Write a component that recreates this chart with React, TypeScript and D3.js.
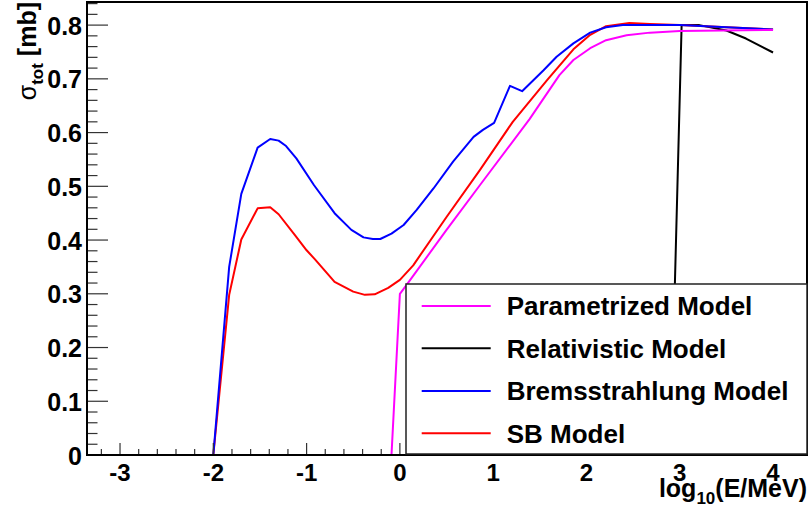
import React, { useEffect, useRef } from 'react';
import * as d3 from 'd3';

// log10(E/MeV) vs sigma_tot [mb]
const paramX = [-3, -0.09, 0, 0.07, 0.5, 0.857, 1.39, 1.71, 1.86, 2.04, 2.21, 2.43, 2.68, 3.0, 4.0];
const paramY = [0, 0, 0.3, 0.316, 0.419, 0.502, 0.625, 0.707, 0.735, 0.757, 0.772, 0.781, 0.786, 0.789, 0.791];

const relX = [-3, 2.9, 3.02, 3.21, 3.5, 3.71, 4.0];
const relY = [0, 0, 0.8, 0.8, 0.79, 0.775, 0.749];

const bremsX = [-3, -2.0, -1.83, -1.7, -1.525, -1.39, -1.3, -1.22, -1.11, -0.92, -0.7, -0.52, -0.39, -0.29, -0.21, -0.09, 0.04, 0.18, 0.36, 0.57, 0.79, 0.89, 1.01, 1.18, 1.31, 1.54, 1.68, 1.86, 2.04, 2.21, 2.39, 3.0, 3.5, 4.0];
const bremsY = [0, 0, 0.35, 0.486, 0.572, 0.588, 0.585, 0.575, 0.552, 0.502, 0.45, 0.419, 0.405, 0.402, 0.402, 0.412, 0.428, 0.456, 0.496, 0.546, 0.592, 0.605, 0.618, 0.687, 0.677, 0.716, 0.741, 0.766, 0.786, 0.796, 0.8, 0.8, 0.796, 0.792];

const sbX = [-3, -2.0, -1.83, -1.7, -1.525, -1.39, -1.3, -1.125, -1.0, -0.91, -0.7, -0.5, -0.375, -0.27, -0.125, 0, 0.143, 0.5, 0.857, 1.21, 1.58, 1.86, 2.04, 2.21, 2.46, 2.68, 3.0, 4.0];
const sbY = [0, 0, 0.298, 0.401, 0.459, 0.461, 0.448, 0.409, 0.381, 0.364, 0.322, 0.304, 0.298, 0.299, 0.311, 0.326, 0.353, 0.443, 0.53, 0.62, 0.698, 0.755, 0.782, 0.798, 0.804, 0.802, 0.8, 0.792];

const xTicks = [-3, -2, -1, 0, 1, 2, 3, 4];
const yTicks = [0, 0.1, 0.2, 0.3, 0.4, 0.5, 0.6, 0.7, 0.8];

// drawing order: magenta last so it sits on top of the zero line
const series = [
  { name: 'Relativistic Model', xs: relX, ys: relY, color: '#000000' },
  { name: 'SB Model', xs: sbX, ys: sbY, color: '#ff0000' },
  { name: 'Bremsstrahlung Model', xs: bremsX, ys: bremsY, color: '#0000ff' },
  { name: 'Parametrized Model', xs: paramX, ys: paramY, color: '#ff00ff' },
];
const legendOrder = ['Parametrized Model', 'Relativistic Model', 'Bremsstrahlung Model', 'SB Model'];

const W = 809;
const H = 512;
const FONT = '"Liberation Sans", Arial, Helvetica, sans-serif';

export default function App() {
  const svgRef = useRef<SVGSVGElement>(null);

  useEffect(() => {
    document.body.style.margin = '0';
    if (!svgRef.current) return;
    const svg = d3.select(svgRef.current);
    svg.selectAll('*').remove();

    const left = 87, right = 807, top = 2, bottom = 455;
    const x = d3.scaleLinear().domain([-3.354, 4.364]).range([left, right]);
    const y = d3.scaleLinear().domain([0, 0.843]).range([bottom, top]);

    svg.append('rect').attr('width', W).attr('height', H).attr('fill', '#fff');

    // curves
    series.forEach((s) => {
      const pts = s.xs.map((v, i) => [x(v), y(s.ys[i])] as [number, number]);
      svg.append('path')
        .attr('d', d3.line()(pts) || '')
        .attr('fill', 'none')
        .attr('stroke', s.color)
        .attr('stroke-width', 2)
        .attr('stroke-linejoin', 'round');
    });

    // ticks (inward, ROOT style)
    const tickColor = '#333';
    d3.range(0, 0.8401, 0.02).forEach((v) => {
      const isMajor = Math.abs(v * 10 - Math.round(v * 10)) < 1e-6;
      svg.append('line')
        .attr('x1', left).attr('x2', left + (isMajor ? 21 : 10.5))
        .attr('y1', y(v)).attr('y2', y(v))
        .attr('stroke', tickColor).attr('stroke-width', 1.2);
    });
    d3.range(-3.2, 4.3, 0.2).forEach((v) => {
      const isMajor = Math.abs(v - Math.round(v)) < 1e-6;
      svg.append('line')
        .attr('x1', x(v)).attr('x2', x(v))
        .attr('y1', bottom).attr('y2', bottom - (isMajor ? 12 : 6))
        .attr('stroke', tickColor).attr('stroke-width', 1.2);
    });

    // frame
    svg.append('rect')
      .attr('x', left).attr('y', top)
      .attr('width', right - left).attr('height', bottom - top)
      .attr('fill', 'none').attr('stroke', '#000').attr('stroke-width', 2);

    // tick labels
    svg.append('g').selectAll('text').data(yTicks).enter().append('text')
      .attr('x', 82).attr('y', (d) => y(d) + 9.5)
      .attr('text-anchor', 'end')
      .attr('font-family', FONT).attr('font-weight', 'bold').attr('font-size', 25)
      .text((d) => (d === 0 ? '0' : d.toFixed(1)));

    svg.append('g').selectAll('text').data(xTicks).enter().append('text')
      .attr('x', (d) => x(d)).attr('y', 481)
      .attr('text-anchor', 'middle')
      .attr('font-family', FONT).attr('font-weight', 'bold').attr('font-size', 24)
      .text((d) => String(d));

    // axis titles
    const xt = svg.append('text')
      .attr('x', 807).attr('y', 497)
      .attr('text-anchor', 'end')
      .attr('font-family', FONT).attr('font-weight', 'bold').attr('font-size', 25);
    xt.append('tspan').text('log');
    xt.append('tspan').attr('font-size', 17).attr('dy', 7).text('10');
    xt.append('tspan').attr('dy', -7).text('(E/MeV)');

    const yt = svg.append('text')
      .attr('transform', 'translate(36,2) rotate(-90)')
      .attr('text-anchor', 'end')
      .attr('font-family', FONT).attr('font-weight', 'bold').attr('font-size', 25);
    yt.append('tspan').attr('font-weight', 'normal').text('σ');
    yt.append('tspan').attr('font-size', 17).attr('dy', 7).text('tot');
    yt.append('tspan').attr('dy', -7).text(' [mb]');

    // legend
    const lg = svg.append('g');
    lg.append('rect')
      .attr('x', 406).attr('y', 284).attr('width', 401).attr('height', 170)
      .attr('fill', '#fff').attr('stroke', '#222').attr('stroke-width', 1.5);
    const rowY = [306, 348.3, 391, 433.3];
    legendOrder.forEach((name, i) => {
      const s = series.find((d) => d.name === name)!;
      lg.append('line')
        .attr('x1', 421.7).attr('x2', 490.7)
        .attr('y1', rowY[i]).attr('y2', rowY[i])
        .attr('stroke', s.color).attr('stroke-width', 2);
      lg.append('text')
        .attr('x', 506.7).attr('y', rowY[i] + 9.3)
        .attr('font-family', FONT).attr('font-weight', 'bold').attr('font-size', 26)
        .text(name);
    });
  }, []);

  return <svg ref={svgRef} width={W} height={H} style={{ display: 'block' }} />;
}
